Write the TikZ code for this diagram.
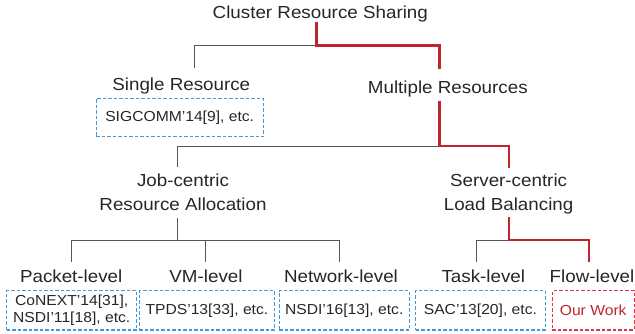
\documentclass[tikz,border=0pt]{standalone}
\usepackage{fontspec}
\setmainfont{Liberation Sans}[FakeStretch=1.08]
\definecolor{txtgray}{RGB}{38,38,38}
\definecolor{linegray}{RGB}{85,85,85}
\definecolor{pathred}{RGB}{192,36,46}
\definecolor{boxblue}{RGB}{72,152,212}
\definecolor{boxred}{RGB}{214,58,70}

\begin{document}
\begin{tikzpicture}[x=1pt,y=-1pt,
    every node/.style={text=txtgray,inner sep=0pt},
    lbl/.style={font=\fontsize{17.4}{23.3}\selectfont,anchor=base,align=center},
    refbox/.style={draw=boxblue,dash pattern=on 3.5pt off 2pt,line width=1.1pt,
        font=\fontsize{14.5}{17.3}\selectfont,align=center,minimum height=39.3pt},
    gline/.style={draw=linegray,line width=1pt},
    rline/.style={draw=pathred,line width=2.5pt}]

    \useasboundingbox (0,0) rectangle (635,333);

    % labels
    \node[lbl] (root) at (320.3,18.5) {Cluster Resource Sharing};
    \node[lbl] (single) at (181.3,90) {Single Resource};
    \node[lbl] (multi) at (447.8,93.3) {Multiple Resources};
    \node[lbl] (job) at (183,210) {Job-centric\\Resource Allocation};
    \node[lbl] (server) at (508.6,210) {Server-centric\\Load Balancing};
    \node[lbl] (packet) at (71.2,282) {Packet-level};
    \node[lbl] (vm) at (206,282) {VM-level};
    \node[lbl] (network) at (341,282) {Network-level};
    \node[lbl] (task) at (483.3,282) {Task-level};
    \node[lbl] (flow) at (592,282) {Flow-level};

    % reference boxes
    \node[refbox,minimum width=167.3pt,minimum height=38.4pt] (sigbox) at (179.7,117.5) {SIGCOMM’14[9], etc.};
    \node[refbox,minimum width=130pt] (packetbox) at (71.7,310.35) {CoNEXT’14[31],\\NSDI’11[18], etc.};
    \node[refbox,minimum width=135.2pt] (vmbox) at (206.9,310.35) {TPDS’13[33], etc.};
    \node[refbox,minimum width=130.3pt] (netbox) at (344.2,310.35) {NSDI’16[13], etc.};
    \node[refbox,minimum width=129.3pt] (taskbox) at (480.4,310.35) {SAC’13[20], etc.};
    \node[refbox,draw=boxred,text=pathred,minimum width=81.7pt] (ourbox) at (593.2,310.35) {Our Work};

    % junctions
    \coordinate (r1) at (316.7,45.5);
    \coordinate (m1) at (439.3,146);
    \coordinate (j1) at (177,240);
    \coordinate (s1) at (509,240);

    % tree
    \draw[gline,shorten >=9pt] (r1) -| ([xshift=12.7pt]single.north);
    \draw[rline,shorten <=-0.3pt,shorten >=11.8pt] (root.south -| r1) -- (r1) -| (multi.north -| m1);

    \draw[gline,shorten >=7pt] (m1) -| (job.north -| j1);
    \draw[rline,shorten <=4pt,shorten >=5.7pt] (multi.south -| m1) -- (m1) -| (server.north -| s1);

    \draw[gline,shorten <=8pt] (job.south -| j1) -- (j1);
    \draw[gline,shorten >=7.5pt] (j1) -| ([xshift=0.5pt]packet.north);
    \draw[gline,shorten >=7.5pt] (j1) -| ([xshift=-1pt]vm.north);
    \draw[gline,shorten >=7.5pt] (j1) -| ([xshift=-2pt]network.north);

    \draw[gline,shorten >=7.5pt] (s1) -| ([xshift=-7.3pt]task.north);
    \draw[rline,shorten <=3.6pt,shorten >=7.5pt] (server.south -| s1) -- (s1) -| ([xshift=-3pt]flow.north);
\end{tikzpicture}
\end{document}
